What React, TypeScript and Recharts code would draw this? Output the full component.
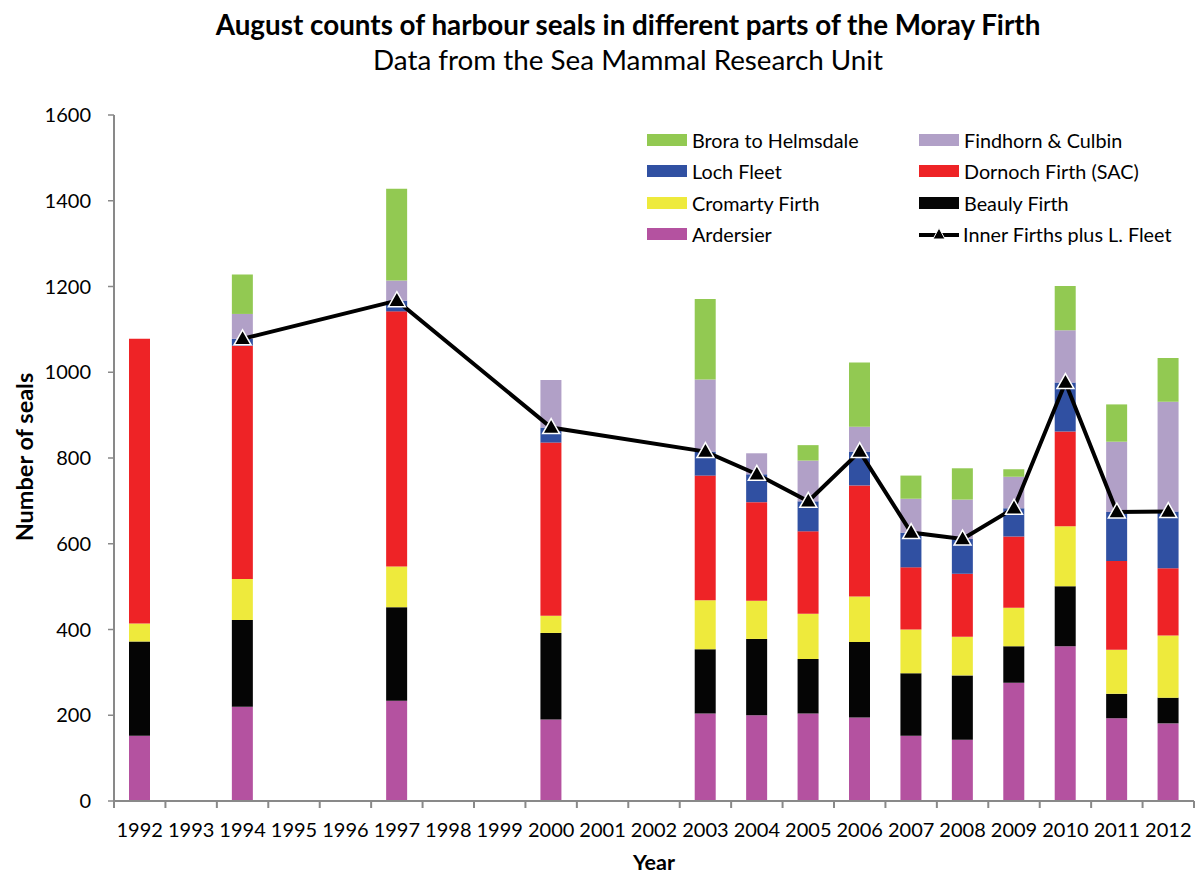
import React from "react";
import {
  ComposedChart,
  Bar,
  Line,
  XAxis,
  YAxis,
  Legend,
} from "recharts";

const years = [
  "1992", "1993", "1994", "1995", "1996", "1997", "1998", "1999", "2000", "2001", "2002",
  "2003", "2004", "2005", "2006", "2007", "2008", "2009", "2010", "2011", "2012",
];

// one value per year, null where there was no survey
const ardersier = [152, null, 220, null, null, 234, null, null, 190, null, null, 204, 200, 204, 195, 152, 143, 276, 361, 193, 181];
const beauly = [220, null, 202, null, null, 218, null, null, 202, null, null, 150, 178, 127, 176, 146, 150, 85, 140, 57, 60];
const cromarty = [42, null, 96, null, null, 95, null, null, 40, null, null, 114, 89, 106, 106, 102, 90, 90, 140, 103, 145];
const dornoch = [664, null, 544, null, null, 595, null, null, 404, null, null, 291, 230, 192, 259, 145, 147, 166, 221, 207, 157];
const lochFleet = [0, null, 16, null, null, 25, null, null, 35, null, null, 56, 65, 70, 79, 81, 81, 66, 114, 114, 132];
const findhorn = [0, null, 58, null, null, 47, null, null, 111, null, null, 168, 49, 95, 58, 79, 92, 73, 122, 164, 256];
const brora = [0, null, 92, null, null, 214, null, null, 0, null, null, 188, 0, 36, 150, 54, 73, 18, 103, 87, 102];
const innerFirths = [null, null, 1078, null, null, 1167, null, null, 871, null, null, 815, 762, 699, 815, 626, 611, 683, 976, 674, 675];

const yTicks = [0, 200, 400, 600, 800, 1000, 1200, 1400, 1600];

const data = years.map((year, i) => ({
  year,
  ardersier: ardersier[i],
  beauly: beauly[i],
  cromarty: cromarty[i],
  dornoch: dornoch[i],
  lochFleet: lochFleet[i],
  findhorn: findhorn[i],
  brora: brora[i],
  innerFirths: innerFirths[i],
}));

const FONT = "Lato, 'Open Sans', sans-serif";
const AXIS_GREY = "#898989";

const COLORS = {
  ardersier: "#B452A0",
  beauly: "#050505",
  cromarty: "#EEEA3C",
  dornoch: "#EE2326",
  lochFleet: "#3050A2",
  findhorn: "#B1A0C7",
  brora: "#92C952",
};

// stacking order, bottom to top
const stack = [
  { key: "ardersier", name: "Ardersier" },
  { key: "beauly", name: "Beauly Firth" },
  { key: "cromarty", name: "Cromarty Firth" },
  { key: "dornoch", name: "Dornoch Firth (SAC)" },
  { key: "lochFleet", name: "Loch Fleet" },
  { key: "findhorn", name: "Findhorn & Culbin" },
  { key: "brora", name: "Brora to Helmsdale" },
];

// legend is laid out in two columns, read row by row
const legendRows = [
  ["brora", "findhorn"],
  ["lochFleet", "dornoch"],
  ["cromarty", "beauly"],
  ["ardersier", "line"],
];

const Triangle = (props: any) => {
  const { cx, cy } = props;
  if (cx == null || cy == null || props.value == null) return null;
  return (
    <path
      d={`M${cx},${cy - 9} L${cx + 8.5},${cy + 6} L${cx - 8.5},${cy + 6} Z`}
      fill="#000"
      stroke="#fff"
      strokeWidth={1.5}
    />
  );
};

const XTick = (props: any) => {
  const { x, y, payload, index, visibleTicksCount } = props;
  const half = payload.offset || 25.7;
  const last = index === (visibleTicksCount ?? years.length) - 1;
  return (
    <g>
      <line x1={x - half} x2={x - half} y1={y} y2={y + 7} stroke={AXIS_GREY} strokeWidth={2} />
      {last && <line x1={x + half} x2={x + half} y1={y} y2={y + 7} stroke={AXIS_GREY} strokeWidth={2} />}
      <text x={x} y={y + 36} textAnchor="middle" fontSize={20} fontFamily={FONT} fill="#000">
        {payload.value}
      </text>
    </g>
  );
};

const LegendBox = () => {
  const nameOf = (k: string) => stack.find((s) => s.key === k)?.name;
  return (
    <div style={{ position: "relative", width: 560, height: 130, fontFamily: FONT, fontSize: 19.8 }}>
      {legendRows.map((row, r) =>
        row.map((k, c) => (
          <div
            key={k}
            style={{
              position: "absolute",
              left: c * 272,
              top: r * 31.3,
              height: 24,
              display: "flex",
              alignItems: "center",
              whiteSpace: "nowrap",
            }}
          >
            {k === "line" ? (
              <svg width={40} height={16} style={{ marginRight: 4 }}>
                <line x1={0} x2={40} y1={9} y2={9} stroke="#000" strokeWidth={4} />
                <path d="M20,2 L26,13 L14,13 Z" fill="#000" stroke="#fff" strokeWidth={1} />
              </svg>
            ) : (
              <div style={{ width: 40, height: 12, background: (COLORS as any)[k], marginRight: 5 }} />
            )}
            <span>{k === "line" ? "Inner Firths plus L. Fleet" : nameOf(k)}</span>
          </div>
        ))
      )}
    </div>
  );
};

export default function App() {
  return (
    <div style={{ position: "absolute", left: 0, top: 0, width: 1195, height: 876, background: "#fff" }}>
      <ComposedChart
        width={1195}
        height={876}
        data={data}
        margin={{ top: 115, right: 1, left: 54, bottom: 35 }}
        style={{ position: "absolute", left: 0, top: 0 }}
      >
        <XAxis
          dataKey="year"
          interval={0}
          tickLine={false}
          tickSize={0}
          tickMargin={0}
          tick={<XTick />}
          height={40}
          axisLine={{ stroke: AXIS_GREY, strokeWidth: 2 }}
        />
        <YAxis
          width={60}
          domain={[0, 1600]}
          ticks={yTicks}
          interval={0}
          tickSize={6}
          tickMargin={17}
          axisLine={{ stroke: AXIS_GREY, strokeWidth: 2 }}
          tickLine={{ stroke: AXIS_GREY, strokeWidth: 1.5 }}
          tick={{ fill: "#000", fontSize: 20, fontFamily: FONT }}
        />
        <Legend
          verticalAlign="middle"
          align="center"
          layout="horizontal"
          content={<LegendBox />}
          wrapperStyle={{ position: "absolute", left: 647, top: 128, width: 560 }}
        />
        {stack.map((s) => (
          <Bar
            key={s.key}
            dataKey={s.key}
            name={s.name}
            stackId="seals"
            fill={(COLORS as any)[s.key]}
            barSize={21}
            isAnimationActive={false}
          />
        ))}
        <Line
          dataKey="innerFirths"
          name="Inner Firths plus L. Fleet"
          stroke="#000"
          strokeWidth={4}
          type="linear"
          connectNulls
          dot={<Triangle />}
          activeDot={false}
          isAnimationActive={false}
        />
      </ComposedChart>
      <svg
        width={1195}
        height={876}
        style={{ position: "absolute", left: 0, top: 0, pointerEvents: "none" }}
        fontFamily={FONT}
      >
        <text x={628} y={35} textAnchor="middle" fontSize={27.8} fontWeight={700} fill="#000">
          August counts of harbour seals in different parts of the Moray Firth
        </text>
        <text x={628} y={70} textAnchor="middle" fontSize={27.8} fill="#000">
          Data from the Sea Mammal Research Unit
        </text>
        <text
          x={24}
          y={457}
          transform="rotate(-90, 24, 457)"
          textAnchor="middle"
          dominantBaseline="central"
          fontSize={23.5}
          fontWeight={700}
          fill="#000"
        >
          Number of seals
        </text>
        <text x={654} y={870} textAnchor="middle" fontSize={21.5} fontWeight={700} fill="#000">
          Year
        </text>
      </svg>
    </div>
  );
}
